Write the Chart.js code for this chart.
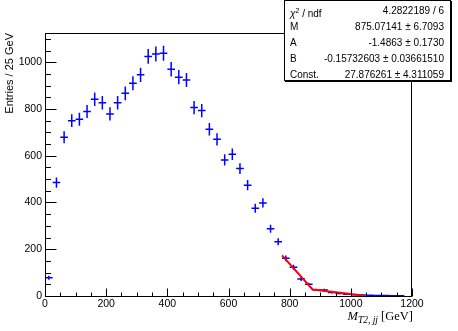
<!DOCTYPE html>
<html>
<head>
<meta charset="utf-8">
<script src="https://cdn.jsdelivr.net/npm/chart.js@4/dist/chart.umd.min.js"></script>
<style>
  body { margin: 0; background: #fff; }
  #wrap { position: relative; width: 458px; height: 331px; }
  #stats {
    position: absolute; left: 284px; top: 0; width: 167px; height: 81px;
    box-sizing: border-box; border: 1px solid #000; box-shadow: 1px 1px 0 #000;
    background: #fff; font: 10px "Liberation Sans", Arial, sans-serif; padding-top: 2px;
  }
  .row { display: flex; justify-content: space-between; height: 16px; line-height: 16px; padding: 0 6px 0 5px; }
  #xtitle { position: absolute; right: 45px; top: 309px; font: 12.5px "Liberation Serif", serif; white-space: nowrap; }
  #xtitle sub { font-size: 9.5px; vertical-align: -3px; }
</style>
</head>
<body>
<div id="wrap">
  <canvas id="chart" width="458" height="331"></canvas>
  <div id="stats">
    <div class="row"><span><i>χ</i><sup style="font-size:7px">2</sup> / ndf</span><span>4.2822189 / 6</span></div>
    <div class="row"><span>M</span><span>875.07141 ± 6.7093</span></div>
    <div class="row"><span>A</span><span>-1.4863 ± 0.1730</span></div>
    <div class="row"><span>B</span><span>-0.15732603 ± 0.03661510</span></div>
    <div class="row"><span>Const.</span><span>27.876261 ± 4.311059</span></div>
  </div>
  <div id="xtitle"><i>M</i><sub><i>T2, jj</i></sub> [GeV]</div>
</div>
<script>
// histogram bins (25 GeV wide)
const binWidth = 25;
const binCenters = [
    12.5, 37.5, 62.5, 87.5, 112.5, 137.5, 162.5, 187.5, 212.5, 237.5,
    262.5, 287.5, 312.5, 337.5, 362.5, 387.5, 412.5, 437.5, 462.5, 487.5,
    512.5, 537.5, 562.5, 587.5, 612.5, 637.5, 662.5, 687.5, 712.5, 737.5,
    762.5, 787.5, 812.5, 837.5, 862.5, 887.5, 912.5, 937.5, 962.5, 987.5,
    1012.5, 1037.5, 1062.5, 1087.5, 1112.5, 1137.5, 1162.5
];
const entries = [
    78, 485, 679, 750, 756, 789, 842, 827, 779, 827,
    867, 910, 946, 1025, 1035, 1038, 970, 936, 924, 806,
    793, 713, 670, 582, 606, 545, 474, 375, 398, 288,
    232, 161, 123, 73, 50, 26, 26, 15, 11, 8,
    5, 4, 3, 2, 2, 1, 1
];

// fit curve (red)
const fitX = [775, 875, 1040];
const fitY = [174, 28, 2];

const xTickLabels = [0, 200, 400, 600, 800, 1000, 1200];
const yTickLabels = [0, 200, 400, 600, 800, 1000];

const vertBars = [];
const horizBars = [];
for (let i = 0; i < binCenters.length; i++) {
    const c = binCenters[i], v = entries[i], e = Math.sqrt(v);
    vertBars.push({x: c, y: v - e}, {x: c, y: v + e}, {x: c, y: null});
    horizBars.push({x: c - binWidth / 2, y: v}, {x: c + binWidth / 2, y: v}, {x: c, y: null});
}
const fitPoints = fitX.map((x, i) => ({x: x, y: fitY[i]}));

// ROOT style frame with inward ticks
const rootFrame = {
    id: "rootFrame",
    afterDatasetsDraw(chart) {
        const ctx = chart.ctx;
        const a = chart.chartArea;
        const xs = chart.scales.x, ys = chart.scales.y;
        const L = Math.round(a.left) + 0.5, R = Math.round(a.right) - 0.5;
        const T = Math.round(a.top) + 0.5, B = Math.round(a.bottom) + 0.5;
        ctx.save();
        ctx.strokeStyle = "#000";
        ctx.lineWidth = 1;
        ctx.strokeRect(L, T, R - L, B - T);
        ctx.beginPath();
        for (let v = 0; v <= 1125; v += 50) {
            const py = Math.round(ys.getPixelForValue(v)) + 0.5;
            const len = v % 200 === 0 ? 11 : 5.5;
            ctx.moveTo(L, py);
            ctx.lineTo(L + len, py);
        }
        for (let v = 0; v <= 1200; v += 50) {
            const px = Math.round(xs.getPixelForValue(v)) + 0.5;
            const len = v % 200 === 0 ? 8 : 4;
            ctx.moveTo(px, B);
            ctx.lineTo(px, B - len);
        }
        ctx.stroke();
        ctx.restore();
    }
};

const tickFont = {family: "Liberation Sans", size: 10.5};

new Chart(document.getElementById("chart"), {
    type: "line",
    data: {
        datasets: [{
            label: "fit",
            data: fitPoints,
            borderColor: "rgb(255,0,0)",
            borderWidth: 2,
            pointRadius: 0,
            order: 0
        }, {
            label: "entries (vertical)",
            data: vertBars,
            borderColor: "rgb(0,0,255)",
            borderWidth: 1.5,
            pointRadius: 0,
            spanGaps: false,
            order: 1
        }, {
            label: "entries (horizontal)",
            data: horizBars,
            borderColor: "rgb(0,0,255)",
            borderWidth: 1.5,
            pointRadius: 0,
            spanGaps: false,
            order: 1
        }]
    },
    options: {
        responsive: false,
        animation: false,
        layout: {padding: {top: 33, right: 46, left: 0, bottom: 0}},
        plugins: {legend: {display: false}, tooltip: {enabled: false}},
        scales: {
            x: {
                type: "linear",
                min: 0,
                max: 1200,
                afterBuildTicks: s => { s.ticks = xTickLabels.map(v => ({value: v})); },
                afterFit: s => { s.height = 35; },
                grid: {display: false, drawTicks: false},
                border: {display: false},
                ticks: {padding: 2, color: "#000", font: tickFont, maxRotation: 0, autoSkip: false,
                        callback: v => String(v)}
            },
            y: {
                type: "linear",
                min: 0,
                max: 1125,
                afterBuildTicks: s => { s.ticks = yTickLabels.map(v => ({value: v})); },
                afterFit: s => { s.width = 45; },
                grid: {display: false, drawTicks: false},
                border: {display: false},
                ticks: {padding: 3, color: "#000", font: tickFont, autoSkip: false,
                        callback: v => String(v)},
                title: {
                    display: true,
                    text: "Entries / 25 GeV",
                    align: "end",
                    color: "#000",
                    font: {family: "Liberation Sans", size: 11},
                    padding: {top: 3, bottom: 0}
                }
            }
        }
    },
    plugins: [rootFrame]
});
</script>
</body>
</html>
